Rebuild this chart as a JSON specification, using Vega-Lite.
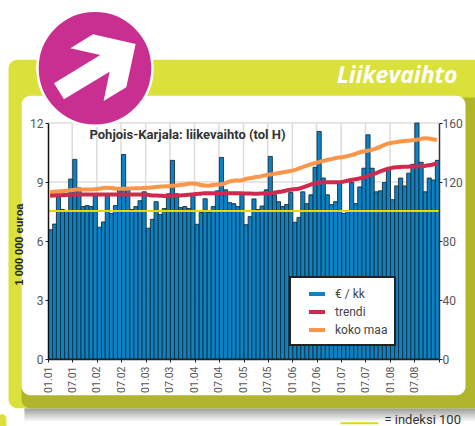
{"$schema":"https://vega.github.io/schema/vega-lite/v6.json","width":391,"height":236,"autosize":{"type":"none"},"padding":{"left":48,"top":123,"right":36,"bottom":67},"background":"white","config":{"view":{"stroke":null},"legend":{"strokeWidth":2}},
"datasets":{"kk":[
{"date":"2001-01-01","eur":6.57,"trendi":110.7,"koko":113.2},{"date":"2001-02-01","eur":6.86,"trendi":110.9,"koko":113.4},{"date":"2001-03-01","eur":8.3,"trendi":111,"koko":113.6},{"date":"2001-04-01","eur":7.6,"trendi":111.1,"koko":113.8},{"date":"2001-05-01","eur":7.55,"trendi":111.2,"koko":114},{"date":"2001-06-01","eur":9.15,"trendi":111.4,"koko":114.5},{"date":"2001-07-01","eur":10.15,"trendi":111.5,"koko":114.8},{"date":"2001-08-01","eur":8.7,"trendi":111.6,"koko":114.9},{"date":"2001-09-01","eur":7.75,"trendi":111.6,"koko":115},{"date":"2001-10-01","eur":7.8,"trendi":111.6,"koko":115},{"date":"2001-11-01","eur":7.75,"trendi":111.6,"koko":115},{"date":"2001-12-01","eur":8.3,"trendi":111.6,"koko":115.1},
{"date":"2002-01-01","eur":6.7,"trendi":111.6,"koko":115.4},{"date":"2002-02-01","eur":6.97,"trendi":111.6,"koko":115.9},{"date":"2002-03-01","eur":8.4,"trendi":111.6,"koko":116.1},{"date":"2002-04-01","eur":7.4,"trendi":111.6,"koko":115.9},{"date":"2002-05-01","eur":7.8,"trendi":111.6,"koko":115.6},{"date":"2002-06-01","eur":8.65,"trendi":111.6,"koko":115.4},{"date":"2002-07-01","eur":10.4,"trendi":111.6,"koko":115.4},{"date":"2002-08-01","eur":8.7,"trendi":111.6,"koko":115.5},{"date":"2002-09-01","eur":7.6,"trendi":111.6,"koko":115.6},{"date":"2002-10-01","eur":7.75,"trendi":111.6,"koko":115.7},{"date":"2002-11-01","eur":8.05,"trendi":111.6,"koko":115.8},{"date":"2002-12-01","eur":8.5,"trendi":111.6,"koko":115.9},
{"date":"2003-01-01","eur":6.65,"trendi":111.3,"koko":116.1},{"date":"2003-02-01","eur":7.1,"trendi":110.9,"koko":116.3},{"date":"2003-03-01","eur":8,"trendi":110.8,"koko":116.6},{"date":"2003-04-01","eur":7.35,"trendi":110.7,"koko":116.8},{"date":"2003-05-01","eur":7.65,"trendi":110.5,"koko":117},{"date":"2003-06-01","eur":8.4,"trendi":110.4,"koko":117.1},{"date":"2003-07-01","eur":10.1,"trendi":110.5,"koko":117.4},{"date":"2003-08-01","eur":8.4,"trendi":110.7,"koko":117.7},{"date":"2003-09-01","eur":7.7,"trendi":110.9,"koko":118},{"date":"2003-10-01","eur":7.75,"trendi":111.1,"koko":118.3},{"date":"2003-11-01","eur":7.65,"trendi":111.3,"koko":118.8},{"date":"2003-12-01","eur":8.4,"trendi":111.6,"koko":118.9},
{"date":"2004-01-01","eur":6.85,"trendi":111.9,"koko":118.6},{"date":"2004-02-01","eur":7.45,"trendi":112.1,"koko":118},{"date":"2004-03-01","eur":8.15,"trendi":112.3,"koko":117.6},{"date":"2004-04-01","eur":7.45,"trendi":112.3,"koko":117.5},{"date":"2004-05-01","eur":7.75,"trendi":112.3,"koko":117.9},{"date":"2004-06-01","eur":8.55,"trendi":112.3,"koko":118.3},{"date":"2004-07-01","eur":10.25,"trendi":112.3,"koko":118.4},{"date":"2004-08-01","eur":8.6,"trendi":112.3,"koko":119.2},{"date":"2004-09-01","eur":7.95,"trendi":112.3,"koko":120.2},{"date":"2004-10-01","eur":7.9,"trendi":112.3,"koko":120.9},{"date":"2004-11-01","eur":7.75,"trendi":112.3,"koko":121},{"date":"2004-12-01","eur":8.4,"trendi":112.3,"koko":121.2},
{"date":"2005-01-01","eur":6.83,"trendi":112.2,"koko":122},{"date":"2005-02-01","eur":7.24,"trendi":112.2,"koko":122.5},{"date":"2005-03-01","eur":8.14,"trendi":112.1,"koko":123},{"date":"2005-04-01","eur":7.6,"trendi":112.1,"koko":123.5},{"date":"2005-05-01","eur":7.78,"trendi":112.2,"koko":124},{"date":"2005-06-01","eur":8.6,"trendi":112.3,"koko":124.6},{"date":"2005-07-01","eur":10.3,"trendi":112.5,"koko":125.1},{"date":"2005-08-01","eur":8.35,"trendi":112.8,"koko":125.5},{"date":"2005-09-01","eur":8,"trendi":113.2,"koko":126},{"date":"2005-10-01","eur":7.75,"trendi":113.6,"koko":126.4},{"date":"2005-11-01","eur":7.85,"trendi":114.2,"koko":126.9},{"date":"2005-12-01","eur":8.46,"trendi":114.7,"koko":127.4},
{"date":"2006-01-01","eur":6.95,"trendi":115.1,"koko":128},{"date":"2006-02-01","eur":7.2,"trendi":115.4,"koko":129},{"date":"2006-03-01","eur":8.5,"trendi":116.2,"koko":130},{"date":"2006-04-01","eur":7.9,"trendi":117.2,"koko":131},{"date":"2006-05-01","eur":8.35,"trendi":118.2,"koko":132},{"date":"2006-06-01","eur":9.75,"trendi":119,"koko":132.8},{"date":"2006-07-01","eur":11.57,"trendi":119.5,"koko":133.5},{"date":"2006-08-01","eur":9.2,"trendi":119.8,"koko":134.2},{"date":"2006-09-01","eur":8.35,"trendi":119.9,"koko":134.9},{"date":"2006-10-01","eur":7.85,"trendi":119.9,"koko":135.5},{"date":"2006-11-01","eur":8,"trendi":119.8,"koko":136.1},{"date":"2006-12-01","eur":9,"trendi":119.8,"koko":136.6},
{"date":"2007-01-01","eur":7.4,"trendi":120.2,"koko":137},{"date":"2007-02-01","eur":7.55,"trendi":120.8,"koko":137.5},{"date":"2007-03-01","eur":8.97,"trendi":121.4,"koko":138.2},{"date":"2007-04-01","eur":7.9,"trendi":121.9,"koko":139},{"date":"2007-05-01","eur":8.75,"trendi":122.4,"koko":140},{"date":"2007-06-01","eur":9.7,"trendi":123,"koko":140.8},{"date":"2007-07-01","eur":11.4,"trendi":124,"koko":141.2},{"date":"2007-08-01","eur":9.7,"trendi":125,"koko":141.8},{"date":"2007-09-01","eur":8.5,"trendi":125.9,"koko":142.7},{"date":"2007-10-01","eur":8.55,"trendi":127,"koko":143.8},{"date":"2007-11-01","eur":8.97,"trendi":128,"koko":145},{"date":"2007-12-01","eur":9.7,"trendi":129,"koko":146},
{"date":"2008-01-01","eur":8.1,"trendi":129.6,"koko":146.6},{"date":"2008-02-01","eur":8.8,"trendi":130,"koko":147},{"date":"2008-03-01","eur":9.2,"trendi":130.2,"koko":147.4},{"date":"2008-04-01","eur":8.8,"trendi":130.3,"koko":147.8},{"date":"2008-05-01","eur":9.45,"trendi":130.4,"koko":148},{"date":"2008-06-01","eur":9.9,"trendi":130.5,"koko":148.3},{"date":"2008-07-01","eur":12,"trendi":130.5,"koko":148.6},{"date":"2008-08-01","eur":10,"trendi":130.7,"koko":149.2},{"date":"2008-09-01","eur":8.5,"trendi":130.9,"koko":149.6},{"date":"2008-10-01","eur":9.2,"trendi":131.3,"koko":149.5},{"date":"2008-11-01","eur":9.1,"trendi":131.9,"koko":149},{"date":"2008-12-01","eur":10.1,"trendi":132.6,"koko":148.4}],
"one":[{}]},
"resolve":{"scale":{"y":"independent"},"axis":{"y":"independent"}},
"layer":[
{"layer":[
{"data":{"name":"one"},"mark":{"type":"rect","fill":{"gradient":"linear","x1":0,"y1":0,"x2":0,"y2":1,"stops":[{"offset":0,"color":"#9a9a9a"},{"offset":1,"color":"#ffffff"}]}},"encoding":{"x":{"datum":{"year":2000,"month":7,"date":9,"utc":true},"type":"temporal","scale":{"type":"utc","domain":[{"year":2001,"month":1,"date":1,"utc":true},{"year":2009,"month":1,"date":1,"utc":true}]},"axis":{"title":null,"zindex":1,"orient":"bottom","tickCount":{"interval":"month","step":6},"labelExpr":"year(datum.value)<2009?utcFormat(datum.value,'%m.%y'):''","labelAngle":-90,"labelFontSize":10.5,"labelFont":"Roboto","labelColor":"#555555","labelPadding":4,"labelFlush":false,"labelOverlap":false,"tickColor":"#222222","tickSize":3,"domainColor":"#222222","domainWidth":1.5,"grid":false}},"x2":{"datum":{"year":2009,"month":12,"date":1,"utc":true}},"y":{"datum":-2.5,"type":"quantitative","scale":{"domain":[0,12],"nice":false,"zero":false},"axis":{"title":"1 000 000 euroa","titleFont":"Liberation Sans","titleFontSize":11,"titleFontWeight":"bold","titleColor":"#222222","titlePadding":5,"titleY":121,"zindex":1,"values":[0,3,6,9,12],"labelFont":"Roboto","labelFontSize":12,"labelColor":"#555555","labelPadding":2,"tickColor":"#222222","tickSize":3,"domainColor":"#111111","domainWidth":1.5,"grid":false}},"y2":{"datum":-3.2}}},
{"data":{"name":"one"},"mark":{"type":"rect","fill":"#dae13a","cornerRadius":9},"encoding":{"x":{"datum":{"year":2000,"month":3,"date":12,"utc":true},"type":"temporal"},"x2":{"datum":{"year":2010,"month":3,"date":1,"utc":true}},"y":{"datum":15.22,"type":"quantitative"},"y2":{"datum":-2.5}}},
{"data":{"name":"one"},"mark":{"type":"rect","fill":"#b0b52c","cornerRadius":9},"encoding":{"x":{"datum":{"year":2000,"month":6,"date":17,"utc":true},"type":"temporal"},"x2":{"datum":{"year":2010,"month":3,"date":1,"utc":true}},"y":{"datum":13.3,"type":"quantitative"},"y2":{"datum":-2.5}}},
{"data":{"name":"one"},"mark":{"type":"rect","fill":"#dae13a","cornerRadius":4},"encoding":{"x":{"datum":{"year":1999,"month":12,"date":1,"utc":true},"type":"temporal"},"x2":{"datum":{"year":2000,"month":2,"date":25,"utc":true}},"y":{"datum":-2.81,"type":"quantitative"},"y2":{"datum":-3.7}}},
{"data":{"name":"one"},"mark":{"type":"rect","fill":"white","cornerRadius":9},"encoding":{"x":{"datum":{"year":2000,"month":6,"date":17,"utc":true},"type":"temporal"},"x2":{"datum":{"year":2009,"month":7,"date":18,"utc":true}},"y":{"datum":13.38,"type":"quantitative"},"y2":{"datum":-1.84}}},
{"data":{"values":[{"date":"2001-07-01"},{"date":"2002-01-01"},{"date":"2002-07-01"},{"date":"2003-01-01"},{"date":"2003-07-01"},{"date":"2004-01-01"},{"date":"2004-07-01"},{"date":"2005-01-01"},{"date":"2005-07-01"},{"date":"2006-01-01"},{"date":"2006-07-01"},{"date":"2007-01-01"},{"date":"2007-07-01"},{"date":"2008-01-01"},{"date":"2008-07-01"}]},"mark":{"type":"rule","stroke":"#dcdcdc","strokeWidth":1.5},"encoding":{"x":{"field":"date","type":"temporal"}}},
{"data":{"values":[{"v":3},{"v":6},{"v":9},{"v":12}]},"mark":{"type":"rule","stroke":"#dcdcdc","strokeWidth":1.5},"encoding":{"y":{"field":"v","type":"quantitative"}}},
{"data":{"name":"one"},"mark":{"type":"point","filled":true,"shape":"circle","size":13225,"fill":"#c92f91","stroke":"white","strokeWidth":2.5,"opacity":1},"encoding":{"x":{"datum":{"year":2001,"month":12,"date":18,"utc":true},"type":"temporal"},"y":{"datum":14.78,"type":"quantitative"}}},
{"data":{"name":"one"},"mark":{"type":"point","filled":true,"shape":"M-0.033,-0.567L0.678,-0.406L0.522,0.317L0.144,0.544L0.244,0.056L-0.517,0.517L-0.683,0.25L0.089,-0.222L-0.411,-0.333Z","size":14400,"fill":"white","strokeWidth":0,"opacity":1},"encoding":{"x":{"datum":{"year":2001,"month":12,"date":18,"utc":true},"type":"temporal"},"y":{"datum":14.78,"type":"quantitative"}}},
{"data":{"name":"kk"},"mark":{"type":"bar","binSpacing":0,"fill":"#0a82c6","stroke":"#1c2c38","strokeWidth":0.9},"encoding":{"x":{"field":"date","type":"temporal","timeUnit":"utcyearmonth"},"y":{"field":"eur","type":"quantitative"}}},
{"data":{"name":"one"},"mark":{"type":"rule","stroke":"#e6d900","strokeWidth":2},"encoding":{"y":{"datum":7.53,"type":"quantitative"}}},
{"data":{"values":[{"t":"Liikevaihto"}]},"mark":{"type":"text","font":"Open Sans","fontStyle":"italic","fontWeight":"bold","fontSize":23,"fill":"white","align":"right","baseline":"middle"},"encoding":{"text":{"field":"t"},"x":{"datum":{"year":2009,"month":5,"date":19,"utc":true},"type":"temporal"},"y":{"datum":14.4,"type":"quantitative"}}},
{"data":{"values":[{"t":"Pohjois-Karjala: liikevaihto (tol H)"}]},"mark":{"type":"text","font":"Roboto","fontWeight":"bold","fontSize":13,"fill":"#333333","align":"left","baseline":"middle"},"encoding":{"text":{"field":"t"},"x":{"datum":{"year":2001,"month":11,"date":7,"utc":true},"type":"temporal"},"y":{"datum":11.39,"type":"quantitative"}}},
{"data":{"name":"one"},"mark":{"type":"rule","stroke":"#e6d900","strokeWidth":2},"encoding":{"x":{"datum":{"year":2006,"month":12,"date":27,"utc":true},"type":"temporal"},"x2":{"datum":{"year":2007,"month":10,"date":7,"utc":true}},"y":{"datum":-3.27,"type":"quantitative"}}},
{"data":{"values":[{"t":"= indeksi 100"}]},"mark":{"type":"text","font":"Roboto","fontSize":13,"fill":"#333333","align":"left","baseline":"middle"},"encoding":{"text":{"field":"t"},"x":{"datum":{"year":2007,"month":11,"date":20,"utc":true},"type":"temporal"},"y":{"datum":-3.12,"type":"quantitative"}}}
]},
{"data":{"name":"kk"},"layer":[
{"mark":{"type":"line","strokeWidth":4,"interpolate":"monotone"},"encoding":{"x":{"field":"date","type":"temporal","timeUnit":"utcyearmonth","bandPosition":0.5},"y":{"field":"koko","type":"quantitative","scale":{"domain":[0,160],"nice":false,"zero":false},"axis":{"title":null,"orient":"right","zindex":1,"values":[0,40,80,120,160],"labelFont":"Roboto","labelFontSize":12,"labelColor":"#555555","labelPadding":0,"tickColor":"#222222","tickSize":3,"domainColor":"#333333","domainWidth":1.5,"grid":false}},"color":{"datum":"koko maa","scale":{"domain":["€ / kk","trendi","koko maa"],"range":["#0a82c6","#cf2a4d","#f9964a"]},"legend":{"orient":"none","legendX":242,"legendY":154,"title":null,"symbolType":"stroke","symbolStrokeWidth":4,"symbolSize":256,"symbolOffset":10,"padding":7,"rowPadding":0,"labelOffset":8,"fillColor":"white","strokeColor":"#222222","labelFont":"Roboto","labelFontSize":12,"labelColor":"#444444","labelLimit":100}}}},
{"mark":{"type":"line","strokeWidth":4,"interpolate":"monotone"},"encoding":{"x":{"field":"date","type":"temporal","timeUnit":"utcyearmonth","bandPosition":0.5},"y":{"field":"trendi","type":"quantitative"},"color":{"datum":"trendi"}}}
]}
]}
